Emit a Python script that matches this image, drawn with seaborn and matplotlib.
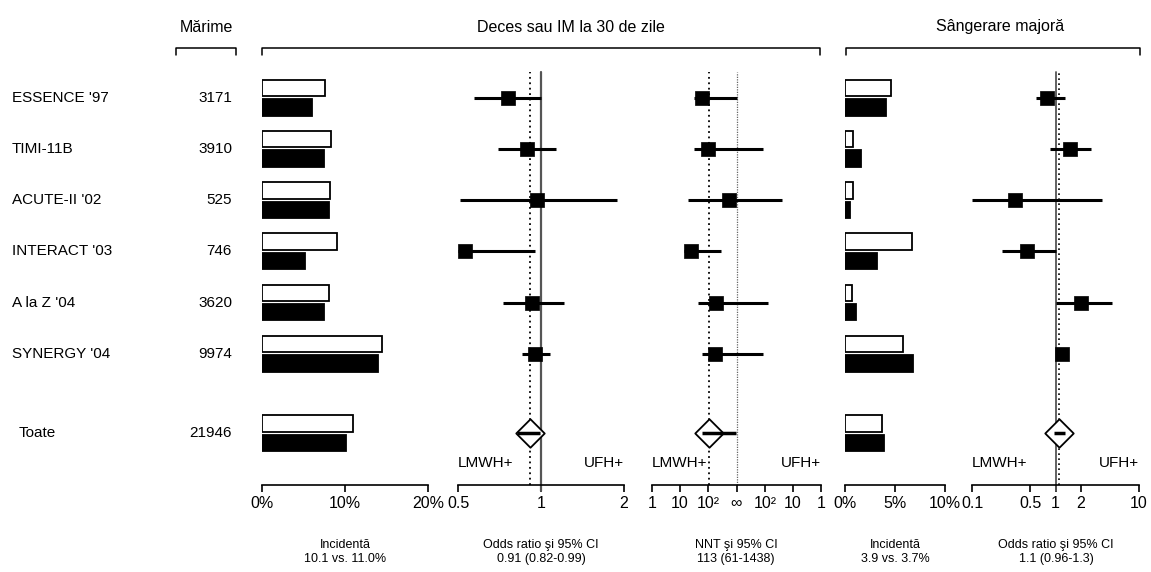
import numpy as np
import pandas as pd
import matplotlib
matplotlib.use("Agg")
import matplotlib.pyplot as plt
from matplotlib.lines import Line2D
from matplotlib.ticker import NullLocator
import matplotlib.transforms as mtransforms
import seaborn as sns

# ---- data -------------------------------------------------------------
trials = ["ESSENCE '97", "TIMI-11B", "ACUTE-II '02", "INTERACT '03",
          "A la Z '04", "SYNERGY '04", "Toate"]
sizes = ["3171", "3910", "525", "746", "3620", "9974", "21946"]

# 30-day death or MI incidence (%), per trial then pooled
dmi_ufh = [7.6, 8.3, 8.2, 9.0, 8.1, 14.5, 11.0]
dmi_lmwh = [6.0, 7.5, 8.1, 5.2, 7.5, 14.0, 10.1]

# odds ratios for death / MI
or_mid = [0.76, 0.89, 0.97, 0.53, 0.93, 0.95]
or_lo = [0.57, 0.70, 0.51, 0.50, 0.73, 0.85]
or_hi = [1.00, 1.13, 1.89, 0.95, 1.21, 1.08]
or_pooled = [0.91, 0.82, 0.99]

# number needed to treat: negative = LMWH benefit, positive = UFH benefit,
# inf = no difference
nnt_mid = [-59, -98, -560, -24, -190, -174]
nnt_lo = [-33, -33, -19, -14, -46, -59]
nnt_hi = [np.inf, 115, 24, -290, 76, 115]
nnt_pooled = [-113, -61, -1438]

# major bleeding incidence (%) and odds ratios
bleed_ufh = [4.6, 0.8, 0.8, 6.7, 0.7, 5.8, 3.7]
bleed_lmwh = [4.1, 1.6, 0.5, 3.2, 1.1, 6.8, 3.9]
bor_mid = [0.80, 1.51, 0.33, 0.45, 2.04, 1.18]
bor_lo = [0.59, 0.87, 0.10, 0.23, 1.00, 1.06]
bor_hi = [1.31, 2.69, 3.6, 1.00, 4.8, 1.31]
bor_pooled = [1.1, 0.96, 1.3]

rows = np.array([0, 1, 2, 3, 4, 5, 6.55])

# ---- figure -----------------------------------------------------------
sns.set_theme(style="white")
plt.rcParams["font.family"] = ["Liberation Sans", "DejaVu Sans"]
plt.rcParams["text.color"] = "black"
plt.rcParams["xtick.color"] = "black"

W, H = 1151, 572
fig = plt.figure(figsize=(W / 100, H / 100), dpi=100)
fig.patch.set_facecolor("white")


def box(x0, x1, y0=72, y1=485):
    return [x0 / W, 1 - y1 / H, (x1 - x0) / W, (y1 - y0) / H]


ax_inc = fig.add_axes(box(262, 428))
ax_or = fig.add_axes(box(458, 624))
ax_nnt = fig.add_axes(box(652, 821))
ax_binc = fig.add_axes(box(845, 945))
ax_bor = fig.add_axes(box(972, 1139))


def style(ax):
    for s in ("left", "right", "top"):
        ax.spines[s].set_visible(False)
    ax.spines["bottom"].set_color("black")
    ax.spines["bottom"].set_linewidth(1.2)
    ax.set_ylim(7.56, -0.5)
    ax.set_yticks([])
    ax.tick_params(axis="x", direction="out", length=5, width=1.2, pad=3,
                   labelsize=11.5, colors="black", bottom=True)
    ax.xaxis.set_minor_locator(NullLocator())
    ax.set_xlabel("")
    ax.set_ylabel("")
    ax.set_facecolor("none")
    ax.grid(False)


def incidence(ax, ufh, lmwh, xmax, ticks):
    df = pd.DataFrame({
        "row": np.concatenate([rows, rows]),
        "pct": list(ufh) + list(lmwh),
        "arm": ["UFH"] * len(ufh) + ["LMWH"] * len(lmwh),
    })
    sns.barplot(data=df, x="pct", y="row", hue="arm", hue_order=["UFH", "LMWH"],
                palette={"UFH": "white", "LMWH": "black"}, orient="h",
                native_scale=True, width=0.76, gap=0.16, edgecolor="black",
                linewidth=1.3, errorbar=None, legend=False, ax=ax)
    ax.set_xlim(0, xmax)
    ax.set_xticks(ticks)
    ax.set_xticklabels([f"{t:g}%" for t in ticks])
    style(ax)


def forest(ax, mid, lo, hi, pooled):
    y = rows[:6]
    ax.hlines(y, lo, hi, color="black", lw=2.2, zorder=3)
    sns.scatterplot(x=list(mid), y=y, marker="s", s=100, color="black",
                    edgecolor="black", linewidth=0.5, legend=False, ax=ax,
                    zorder=4, clip_on=False)
    sns.scatterplot(x=[pooled[0]], y=[rows[6]], marker="D", s=210,
                    color="white", edgecolor="black", linewidth=1.3,
                    legend=False, ax=ax, zorder=4, clip_on=False)
    ax.hlines(rows[6], pooled[1], pooled[2], color="black", lw=2.5, zorder=5)


def sides(ax):
    ax.text(0, 0.053, "LMWH+", transform=ax.transAxes, ha="left",
            va="center", fontsize=11)
    ax.text(1, 0.053, "UFH+", transform=ax.transAxes, ha="right",
            va="center", fontsize=11)


dotted = (0, (1, 2))

# incidence of death / MI
incidence(ax_inc, dmi_ufh, dmi_lmwh, 20, [0, 10, 20])

# odds ratio of death / MI
ax_or.set_xscale("log", base=2)
ax_or.axvline(1, color="#555555", lw=1.6, ymin=-0.015, clip_on=False, zorder=1)
ax_or.axvline(or_pooled[0], color="black", lw=1.3, ls=dotted, zorder=1)
forest(ax_or, or_mid, or_lo, or_hi, or_pooled)
ax_or.set_xlim(0.5, 2)
ax_or.set_xticks([0.5, 1, 2])
ax_or.set_xticklabels(["0.5", "1", "2"])
style(ax_or)
sides(ax_or)

# number needed to treat, on a reciprocal (risk difference) scale
inv = lambda v: 1.0 / np.asarray(v, dtype=float)
ax_nnt.set_xscale("symlog", linthresh=1e-3, linscale=0.02)
ax_nnt.axvline(0, color="#666666", lw=0.9, ls=(0, (1, 1)), zorder=1)
ax_nnt.axvline(inv(nnt_pooled[0]), color="black", lw=1.3, ls=dotted, zorder=1)
forest(ax_nnt, inv(nnt_mid), inv(nnt_lo), inv(nnt_hi), inv(nnt_pooled))
ax_nnt.set_xlim(-1, 1)
ax_nnt.set_xticks([-1, -0.1, -0.01, 0, 0.01, 0.1, 1])
ax_nnt.set_xticklabels(["1", "10", "10²", "∞", "10²", "10", "1"])
style(ax_nnt)
sides(ax_nnt)

# incidence of major bleeding
incidence(ax_binc, bleed_ufh, bleed_lmwh, 10, [0, 5, 10])

# odds ratio of major bleeding
ax_bor.set_xscale("log")
ax_bor.axvline(1, color="#555555", lw=1.3, ymin=-0.015, clip_on=False, zorder=1)
ax_bor.axvline(bor_pooled[0], color="black", lw=1.2, ls=dotted, zorder=1)
forest(ax_bor, bor_mid, bor_lo, bor_hi, bor_pooled)
ax_bor.set_xlim(0.1, 10)
ax_bor.set_xticks([0.1, 0.5, 1, 2, 10])
ax_bor.set_xticklabels(["0.1", "0.5", "1", "2", "10"])
style(ax_bor)
sides(ax_bor)

# ---- row labels and trial sizes --------------------------------------
row_trans = mtransforms.blended_transform_factory(fig.transFigure, ax_inc.transData)
for i, (name, n) in enumerate(zip(trials, sizes)):
    x0 = 19 if i == len(trials) - 1 else 12
    ax_inc.text(x0 / W, rows[i], name, transform=row_trans, ha="left",
                va="center", fontsize=11, clip_on=False)
    ax_inc.text(232 / W, rows[i], n, transform=row_trans, ha="right",
                va="center", fontsize=11, clip_on=False)

# ---- group headers with brackets -------------------------------------
def header(x0, x1, label, xc):
    fig.add_artist(Line2D([x0 / W, x0 / W, x1 / W, x1 / W],
                          [1 - 55 / H, 1 - 48 / H, 1 - 48 / H, 1 - 55 / H],
                          color="black", lw=1.1, transform=fig.transFigure))
    fig.text(xc / W, 1 - 27 / H, label, ha="center", va="center", fontsize=11.5)


header(176, 236, "Mărime", 206)
header(262, 820, "Deces sau IM la 30 de zile", 571)
header(846, 1140, "Sângerare majoră", 1000)

# ---- captions under each panel ---------------------------------------
captions = [
    (345, "Incidentă", f"{dmi_lmwh[-1]} vs. {dmi_ufh[-1]}%"),
    (541, "Odds ratio şi 95% CI",
     f"{or_pooled[0]} ({or_pooled[1]}-{or_pooled[2]})"),
    (736, "NNT şi 95% CI",
     f"{abs(nnt_pooled[0])} ({abs(nnt_pooled[1])}-{abs(nnt_pooled[2])})"),
    (895, "Incidentă", f"{bleed_lmwh[-1]} vs. {bleed_ufh[-1]}%"),
    (1056, "Odds ratio şi 95% CI",
     f"{bor_pooled[0]} ({bor_pooled[1]}-{bor_pooled[2]})"),
]
for xc, l1, l2 in captions:
    fig.text(xc / W, 1 - 545 / H, l1, ha="center", va="center", fontsize=9)
    fig.text(xc / W, 1 - 559 / H, l2, ha="center", va="center", fontsize=9)

fig.savefig("out.png", dpi=100, facecolor="white")
